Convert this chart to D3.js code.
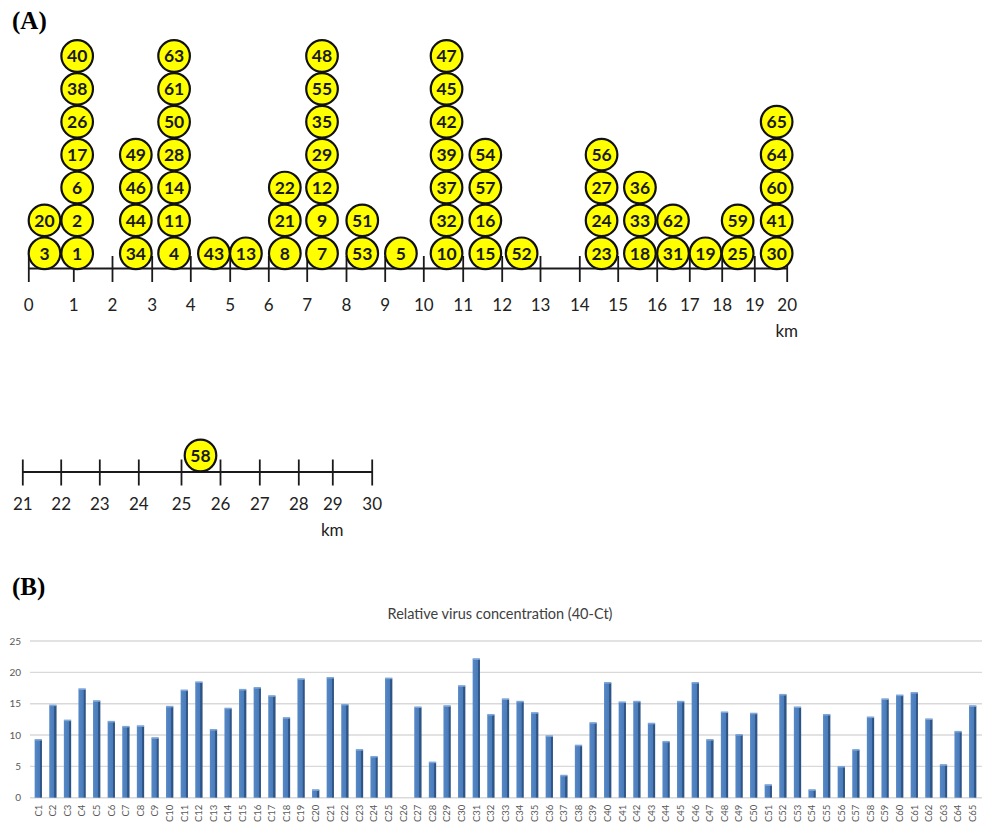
<!DOCTYPE html>
<html>
<head>
<meta charset="utf-8">
<script src="https://cdn.jsdelivr.net/npm/d3@7"></script>
<style>
  body { margin: 0; background: #fff; }
  svg { display: block; }
</style>
</head>
<body>
<svg id="chart" width="984" height="823"></svg>
<script>
// ---- Panel A: sampling sites along the river (km); sample numbers stacked bottom to top
const siteKm = [0.36, 1.1, 2.6, 3.58, 4.6, 5.42, 6.43, 7.39, 8.42, 9.42, 10.59, 11.58, 12.52, 14.58, 15.57, 16.5, 17.5, 18.49, 19.69];
const siteSamples = [
  [3, 20], [1, 2, 6, 17, 26, 38, 40], [34, 44, 46, 49], [4, 11, 14, 28, 50, 61, 63],
  [43], [13], [8, 21, 22], [7, 9, 12, 29, 35, 55, 48], [53, 51], [5],
  [10, 32, 37, 39, 42, 45, 47], [15, 16, 57, 54], [52], [23, 24, 27, 56],
  [18, 33, 36], [31, 62], [19], [25, 59], [30, 41, 60, 64, 65]
];
const farSiteKm = [25.5];
const farSiteSamples = [[58]];
const kmTicksNear = d3.range(0, 21);
const kmTicksFar = d3.range(21, 31);

// ---- Panel B: relative virus concentration (40-Ct) per sample
const sampleLabels = d3.range(1, 66).map(i => "C" + i);
const concentration = [
  9.2, 14.7, 12.3, 17.3, 15.4, 12.1, 11.3, 11.4, 9.5, 14.5,
  17.1, 18.4, 10.8, 14.2, 17.2, 17.5, 16.2, 12.7, 18.9, 1.2,
  19.1, 14.8, 7.6, 6.5, 19.0, 0, 14.4, 5.6, 14.6, 17.8,
  22.1, 13.2, 15.7, 15.3, 13.5, 9.8, 3.5, 8.3, 11.9, 18.3,
  15.2, 15.3, 11.8, 8.9, 15.3, 18.3, 9.2, 13.6, 10.0, 13.4,
  2.0, 16.4, 14.4, 1.2, 13.2, 4.9, 7.6, 12.8, 15.7, 16.3,
  16.7, 12.5, 5.2, 10.5, 14.6
];
const concTicks = [0, 5, 10, 15, 20, 25];

const svg = d3.select("#chart");
const font = "Lato, 'Open Sans', sans-serif";

// ================= Panel A =================
svg.append("text").attr("x", 12).attr("y", 29)
  .attr("font-family", "'Liberation Serif', 'Times New Roman', serif")
  .attr("font-weight", "bold").attr("font-size", 25).text("(A)");

// hand-drawn ruler: kilometre marks are not evenly spaced, so map them piecewise
const xNear = d3.scaleLinear().domain(kmTicksNear)
  .range([28.3, 73.3, 112, 151.7, 190.3, 229.7, 268.3, 306.7, 346, 384.7, 423.3,
          462.7, 501.7, 540, 579.3, 617.7, 656.7, 689.3, 721.7, 754.3, 786.7]);
const xFar = d3.scaleLinear().domain(kmTicksFar)
  .range([22.3, 60.7, 99.3, 138.3, 181, 220, 259.3, 298.3, 332.3, 371.7]);
const stackY = d3.scaleLinear().domain([0, 6]).range([253.3, 56]);

function drawRuler(scale, ticks, yAxis, pad, kmAt, kmY) {
  const g = svg.append("g").attr("transform", `translate(0,${yAxis})`);
  g.call(d3.axisBottom(scale).tickValues(ticks).tickSizeInner(14).tickSizeOuter(0).tickPadding(pad));
  g.select(".domain").attr("stroke", "#1a1a1a").attr("stroke-width", 1.8);
  g.selectAll(".tick line").attr("stroke", "#1a1a1a").attr("stroke-width", 1.8).attr("y1", -12);
  g.selectAll(".tick text").attr("font-family", font).attr("font-size", 17)
    .attr("fill", "#222").attr("dy", "0.71em");
  g.append("text").attr("x", scale(kmAt)).attr("y", kmY)
    .attr("text-anchor", "middle").attr("font-family", font).attr("font-size", 17)
    .attr("fill", "#222").text("km");
  return g;
}

drawRuler(xNear, kmTicksNear, 268, 17, 20, 68.5);
drawRuler(xFar, kmTicksFar, 471.5, 12.5, 29, 64.5);

function drawStacks(kms, stacks, xs, baseY) {
  const nodes = [];
  kms.forEach((km, i) => stacks[i].forEach((id, lvl) => nodes.push({ km, id, lvl })));
  const g = svg.append("g")
    .selectAll("g").data(nodes).join("g")
    .attr("transform", d => `translate(${xs(d.km)},${baseY(d.lvl)})`);
  g.append("circle").attr("r", 15.8)
    .attr("fill", "#ffff00").attr("stroke", "#111").attr("stroke-width", 2.2);
  g.append("text").attr("text-anchor", "middle").attr("dy", "0.36em")
    .attr("font-family", font).attr("font-weight", "bold").attr("font-size", 17.5)
    .attr("fill", "#1a1a1a").text(d => d.id);
}

drawStacks(siteKm, siteSamples, xNear, stackY);
drawStacks(farSiteKm, farSiteSamples, xFar, () => 455.5);

// ================= Panel B =================
svg.append("text").attr("x", 12).attr("y", 595)
  .attr("font-family", "'Liberation Serif', 'Times New Roman', serif")
  .attr("font-weight", "bold").attr("font-size", 25).text("(B)");

svg.append("text").attr("x", 500).attr("y", 619).attr("text-anchor", "middle")
  .attr("font-family", font).attr("font-size", 14.5).attr("fill", "#404040")
  .text("Relative virus concentration (40-Ct)");

const xB = d3.scaleBand().domain(sampleLabels).range([31, 980])
  .paddingInner(0.5).paddingOuter(0.25);
const yB = d3.scaleLinear().domain([0, 25]).range([797.7, 641]);

const defs = svg.append("defs");
const grad = defs.append("linearGradient").attr("id", "barFace")
  .attr("x1", "0%").attr("x2", "100%").attr("y1", "0%").attr("y2", "0%");
[["0%", "#5688c6"], ["68%", "#4a7cbb"], ["72%", "#31598a"], ["100%", "#2c5080"]]
  .forEach(([o, c]) => grad.append("stop").attr("offset", o).attr("stop-color", c));

const grid = svg.append("g");
grid.selectAll("line").data(concTicks).join("line")
  .attr("x1", 30).attr("x2", 982)
  .attr("y1", d => yB(d)).attr("y2", d => yB(d))
  .attr("stroke", "#d9d9d9").attr("stroke-width", 1.4);

const yAxisB = svg.append("g").attr("transform", "translate(30,0)")
  .call(d3.axisLeft(yB).tickValues(concTicks).tickSize(0).tickPadding(9));
yAxisB.select(".domain").remove();
yAxisB.selectAll(".tick text").attr("font-family", font).attr("font-size", 10).attr("fill", "#595959");

const bars = svg.append("g").selectAll("g")
  .data(sampleLabels.map((s, i) => ({ s, v: concentration[i] })).filter(d => d.v > 0))
  .join("g");
bars.append("rect")
  .attr("x", d => xB(d.s)).attr("width", xB.bandwidth())
  .attr("y", d => yB(d.v)).attr("height", d => yB(0) - yB(d.v))
  .attr("fill", "url(#barFace)");
bars.append("rect")
  .attr("x", d => xB(d.s)).attr("width", xB.bandwidth())
  .attr("y", d => yB(d.v) - 1).attr("height", 1.6)
  .attr("fill", "#7ea6d8");

const xAxisB = svg.append("g").attr("transform", `translate(0,${yB(0)})`)
  .call(d3.axisBottom(xB).tickSize(0));
xAxisB.select(".domain").remove();
xAxisB.selectAll(".tick text")
  .attr("font-family", font).attr("font-size", 9.5).attr("fill", "#595959")
  .attr("text-anchor", "end").attr("transform", "translate(0,7) rotate(-90)")
  .attr("x", 0).attr("y", 0).attr("dy", "0.35em");
</script>
</body>
</html>
